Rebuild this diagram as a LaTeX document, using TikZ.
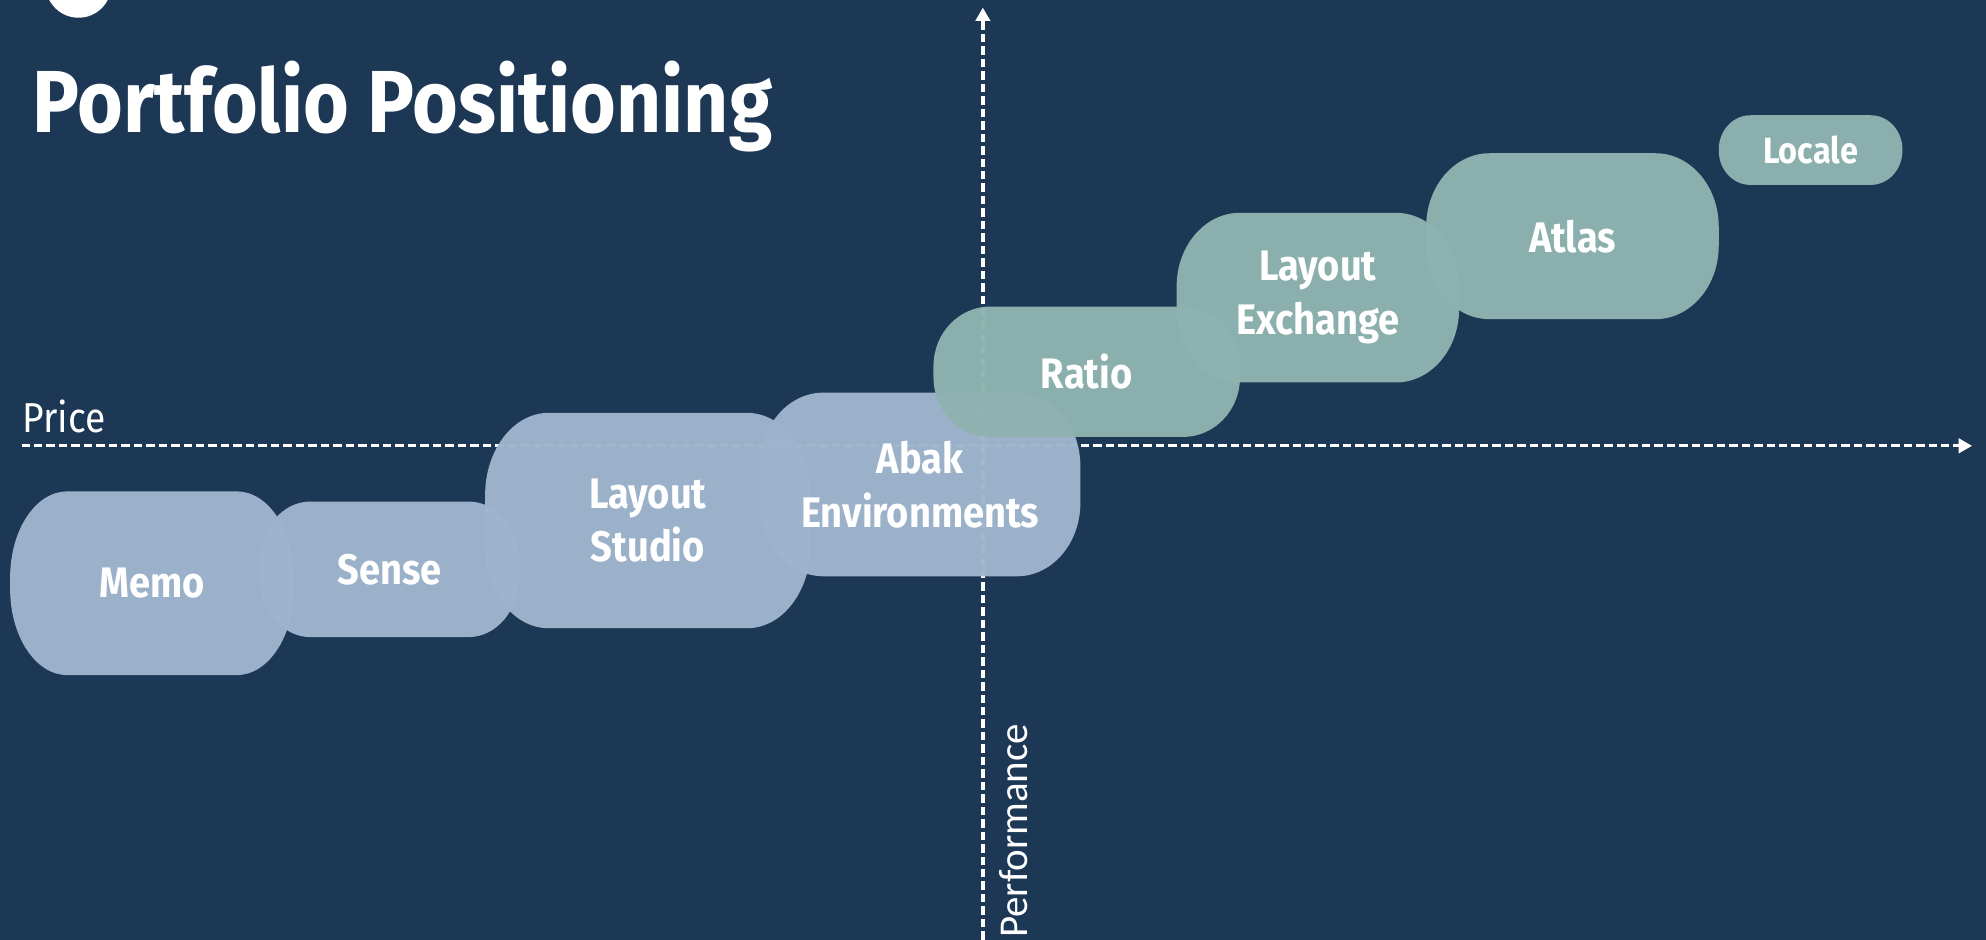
\documentclass[tikz,border=0pt]{standalone}
\usepackage{fontspec}
\setmainfont{Fira Sans}
\newfontfamily\condfont{Fira Sans}[FakeStretch=0.89]
\newfontfamily\perffont{Carlito}
\usetikzlibrary{arrows.meta}

\definecolor{navy}{RGB}{29,56,85}
\definecolor{steel}{RGB}{159,181,205}
\definecolor{sage}{RGB}{143,179,176}

% #1 name, #2-#5 corners, #6 #7 corner radii, #8 colour, #9 text
\newcommand{\product}[9]{%
  \fill[#8,fill opacity=0.97] (#2+#6,#3) -- (#4-#6,#3)
    arc[start angle=270,end angle=360,x radius=#6,y radius=#7] -- (#4,#5-#7)
    arc[start angle=0,end angle=90,x radius=#6,y radius=#7] -- (#2+#6,#5)
    arc[start angle=90,end angle=180,x radius=#6,y radius=#7] -- (#2,#3+#7)
    arc[start angle=180,end angle=270,x radius=#6,y radius=#7] -- cycle;
  \node[prodlabel] (#1) at ({(#2+#4)/2},{(#3+#5)/2}) {#9};}

\begin{document}
\begin{tikzpicture}[x=0.1mm,y=-0.1mm,
  prodlabel/.style={text=white,align=center,inner sep=0,font=\condfont\bfseries\fontsize{9.6}{12}\selectfont},
  axis/.style={white,line width=0.75pt,dash pattern=on 1.9pt off 0.9pt,-{Triangle[length=3pt,width=3.2pt]}}]
  \useasboundingbox (0,0) rectangle (1568,742);
  \fill[navy] (0,0) rectangle (1568,742);
  \fill[white] (62,-12) circle[radius=26];

  %title
  \node[anchor=base west,inner sep=0,text=white,font=\condfont\bfseries\fontsize{19.8}{24}\selectfont] (title) at (25,105) {Portfolio Positioning};

  %axes
  \coordinate (xstart) at (17,352);
  \coordinate (xend) at (1557,352);
  \coordinate (ystart) at (776,742);
  \coordinate (yend) at (776,6);
  \draw[axis] (xstart) -- (xend);
  \draw[axis] (ystart) -- (yend);
  \node[anchor=west,inner sep=0,text=white,font=\condfont\fontsize{9.4}{11}\selectfont] (price) at (17,329) {Price};
  \node[rotate=90,inner sep=0,text=white,font=\perffont\fontsize{9.2}{11}\selectfont] (perf) at (800,656) {Performance};

  %products
  \product{memo}{8}{388}{232}{533}{45}{68}{steel}{Memo}
  \product{sense}{205}{396}{410}{503}{40}{48}{steel}{Sense}
  \product{studio}{383}{326}{640}{496}{50}{65}{steel}{Layout\\Studio}
  \product{abak}{600}{310}{853}{455}{50}{58}{steel}{Abak\\Environments}
  \product{ratio}{737}{242}{979}{345}{45}{47}{sage}{Ratio}
  \product{exchange}{929}{168}{1152}{302}{50}{58}{sage}{Layout\\Exchange}
  \product{atlas}{1126}{121}{1357}{252}{50}{58}{sage}{Atlas}
  \product{locale}{1357}{91}{1502}{146}{25}{27}{sage}{\fontsize{8.2}{10}\selectfont Locale}
\end{tikzpicture}
\end{document}
